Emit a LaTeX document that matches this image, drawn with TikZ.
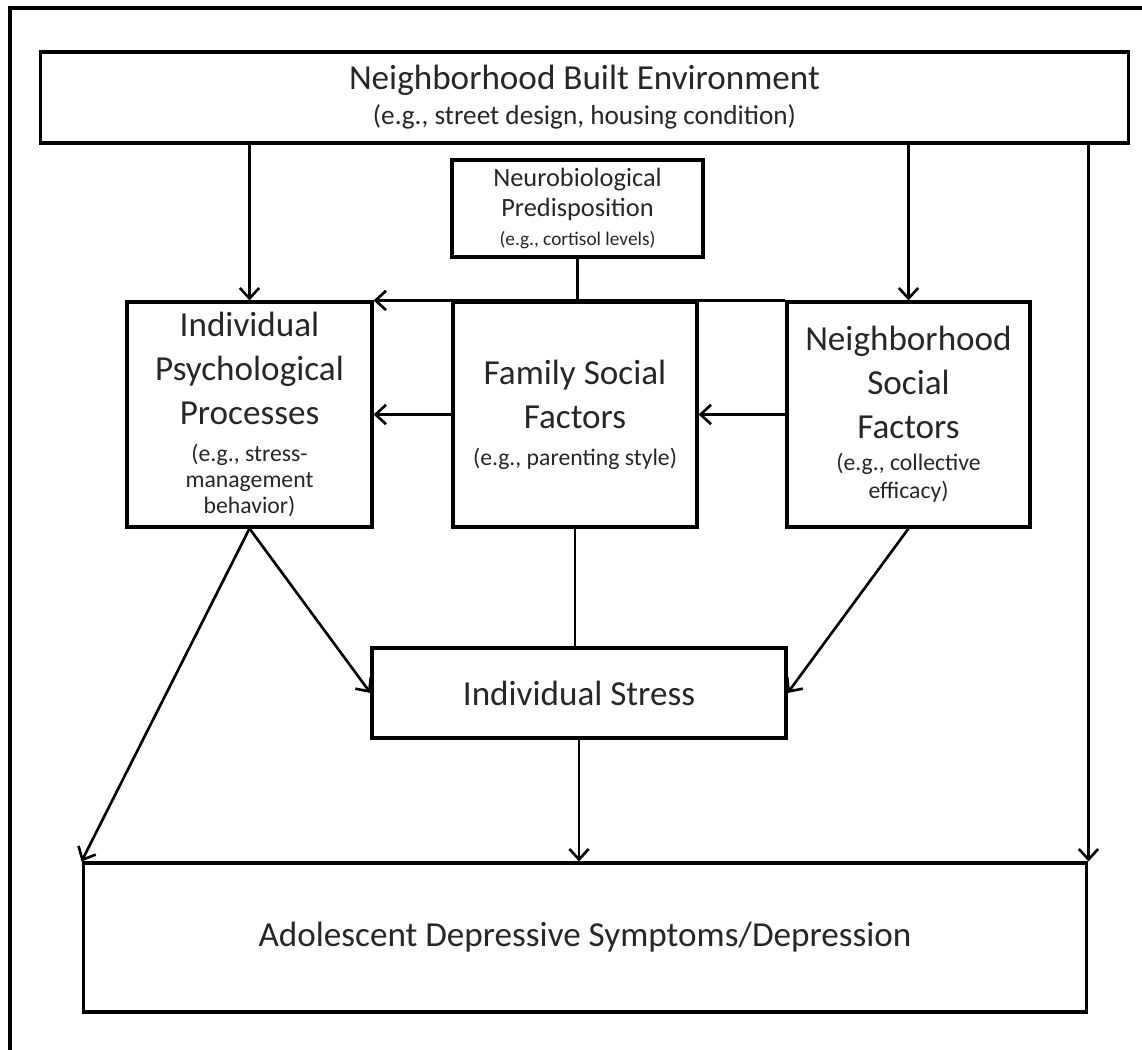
\documentclass[tikz,border=0pt]{standalone}
\usepackage{fontspec}
\setmainfont{Carlito}
\usetikzlibrary{arrows.meta}

\newcommand{\egtext}[1]{{\fontsize{13.5}{15}\selectfont #1}}

\begin{document}
\begin{tikzpicture}[
  x=0.02cm, y=-0.02cm,
  box/.style={draw, rectangle, line width=1.8pt, align=center, inner sep=2pt, text=black!85, font=\fontsize{20}{25}\selectfont},
  flow/.style={-{Straight Barb[length=6pt, width=11pt]}, line width=1.5pt},
  link/.style={line width=1.5pt}
]

% Frame
\useasboundingbox (0,0) rectangle (1142,1050);
\clip (0,0) rectangle (1142,1050);
\draw[line width=1.8pt] (10,8) rectangle (1160,1070);

% Boxes
\node[box, minimum width=21.78cm, minimum height=1.82cm] (built) at (584.5,97.5) {Neighborhood Built Environment\\[-5pt] {\fontsize{15.5}{18}\selectfont (e.g., street design, housing condition)}};
\node[box, font=\fontsize{15}{17.5}\selectfont, minimum width=5.02cm, minimum height=1.94cm] (neuro) at (577.5,208.5) {Neurobiological\\ Predisposition\\[-1pt] {\fontsize{11}{13}\selectfont (e.g., cortisol levels)}};
\node[box, minimum width=4.9cm, minimum height=4.5cm] (indiv) at (249.5,414.5) {Individual\\ Psychological\\ Processes\\[-4pt] \egtext{(e.g., stress-}\\[-10pt] \egtext{management}\\[-10pt] \egtext{behavior)}};
\node[box, minimum width=4.88cm, minimum height=4.5cm] (family) at (575,414.5) {Family Social\\ Factors\\[-4pt] \egtext{(e.g., parenting style)}};
\node[box, minimum width=4.86cm, minimum height=4.5cm] (nsocial) at (908.5,414.5) {Neighborhood\\ Social\\ Factors\\[-7pt] \egtext{(e.g., collective}\\[-9pt] \egtext{efficacy)}};
\node[box, minimum width=8.28cm, minimum height=1.8cm] (stress) at (579,693) {Individual Stress};
\node[box, minimum width=20.08cm, minimum height=2.98cm] (outcome) at (585,937.5) {Adolescent Depressive Symptoms/Depression};

% Relations
\draw[flow] (indiv.north |- built.south) -- (indiv.north);
\draw[flow] (nsocial.north |- built.south) -- (nsocial.north);
\draw[flow] (outcome.north east |- built.south) -- (outcome.north east);
\draw[link] (neuro.south) -- (neuro.south |- family.north);
\draw[flow] (nsocial.north west) -- (indiv.north east);
\draw[flow] (family.west) -- (indiv.east);
\draw[flow] (nsocial.west) -- (family.east);
\draw[flow] (indiv.south) -- (stress.west);
\draw[flow] (nsocial.south) -- (stress.east);
\draw[link] (family.south) -- (family.south |- stress.north);
\draw[flow] (stress.south) -- (stress.south |- outcome.north);
\draw[flow] (indiv.south) -- (outcome.north west);

\end{tikzpicture}
\end{document}
